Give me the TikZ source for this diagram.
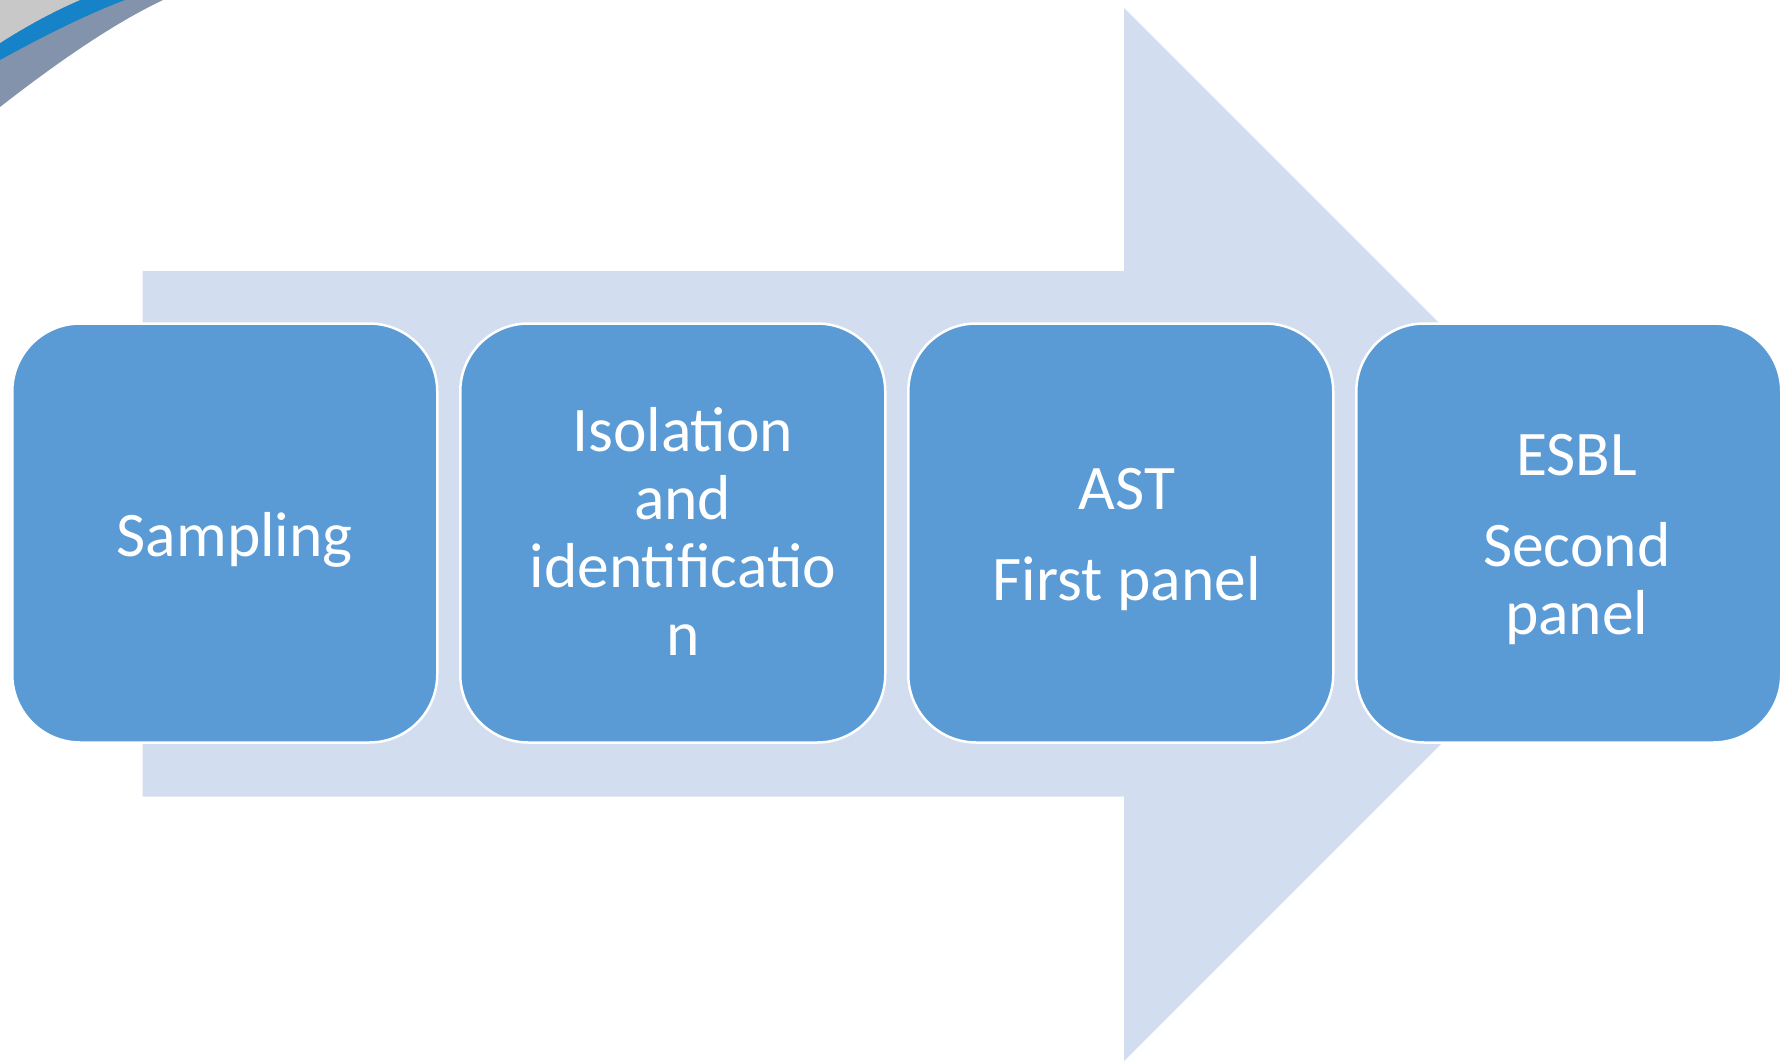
\documentclass[tikz,border=0pt]{standalone}
\usepackage{fontspec}
\setmainfont{Carlito}
\usetikzlibrary{calc}
\definecolor{boxblue}{HTML}{5B9BD5}
\definecolor{arrowlight}{HTML}{D2DEEF}
\definecolor{swgrey}{HTML}{8393AB}
\definecolor{swblue}{HTML}{1683C8}
\definecolor{swlight}{HTML}{C8C8C8}
\tikzset{
  stepbox/.style={draw=white, line width=2.5pt, fill=boxblue, rounded corners=68pt,
    minimum width=425pt, minimum height=419pt, inner sep=0pt},
  steptext/.style={text=white, align=center, inner sep=0pt,
    font=\fontsize{63.5}{68}\selectfont}
}
\begin{document}
\begin{tikzpicture}[x=1pt,y=-1pt]
\useasboundingbox (0,0) rectangle (1789,1061);
% decorative swoosh in the top-left corner
\fill[swgrey] (0,0) -- (0,107) .. controls (50,68) and (110,25) .. (163,0) -- cycle;
\fill[swblue] (0,0) -- (0,60) .. controls (40,38) and (85,15) .. (125,0) -- cycle;
\fill[swlight] (0,0) -- (0,43) .. controls (25,27) and (52,12) .. (80,0) -- cycle;
% big background arrow
\fill[arrowlight] (142.6,271) -- (1124,271) -- (1124,8) -- (1650.5,534.5)
  -- (1124,1061) -- (1124,796.5) -- (142.6,796.5) -- cycle;
% boxes
\node[stepbox] (b1) at (224.75,533) {};
\node[stepbox] (b2) at (672.75,533) {};
\node[stepbox] (b3) at (1120.75,533) {};
\node[stepbox] (b4) at (1568.75,533) {};
% texts
\node[steptext] (t1) at ($(b1.center)+(10,7)$) {Sampling};
\node[steptext] (t2) at ($(b2.center)+(10,-2)$) {Isolation\\and\\identificatio\\n};
\node[steptext] (t3) at ($(b3.center)+(6,7)$) {AST\\[23pt]First panel};
\node[steptext] (t4) at ($(b4.center)+(8,7)$) {ESBL\\[23pt]Second\\panel};
\end{tikzpicture}
\end{document}
